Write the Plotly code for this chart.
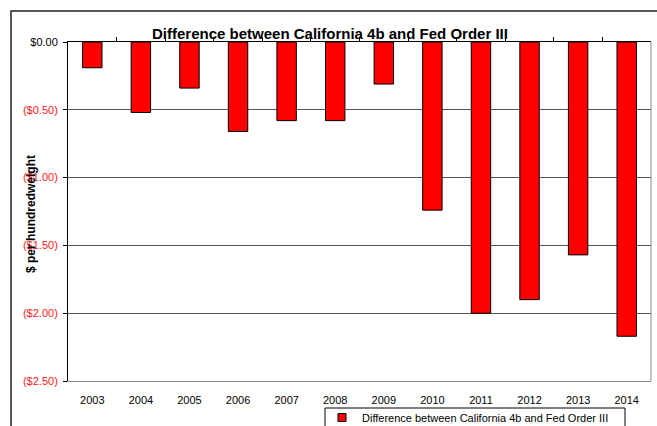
import plotly.graph_objects as go

years = ["2003", "2004", "2005", "2006", "2007", "2008", "2009", "2010", "2011", "2012", "2013", "2014"]
difference = [-0.19, -0.52, -0.34, -0.66, -0.58, -0.58, -0.31, -1.24, -2.00, -1.90, -1.57, -2.17]
y_tickvals = [0, -0.5, -1.0, -1.5, -2.0, -2.5]
y_ticktext = ["$0.00", "($0.50)", "($1.00)", "($1.50)", "($2.00)", "($2.50)"]
series_name = "Difference between California 4b and Fed Order III"
chart_title = "Difference between California 4b and Fed Order III"
y_title = "$ per hundredweight"

W, H = 657, 426
L, R, T, B = 68, 6, 42, 45
pw, ph = W - L - R, H - T - B

def px(x):
    return (x - L) / pw

def py(y):
    return 1 - (y - T) / ph

colored = []
for v, t in zip(y_tickvals, y_ticktext):
    if v < 0:
        colored.append('<span style="color:#FF2020">' + t + '</span>')
    else:
        colored.append(t)

fig = go.Figure()
fig.add_trace(go.Bar(
    x=years, y=difference, name=series_name,
    marker=dict(color="#FF0000", line=dict(color="#000000", width=1)),
    width=0.4, showlegend=False,
))
# legend entry with small square marker
fig.add_trace(go.Scatter(x=[None], y=[None], mode="markers", name=series_name,
                         marker=dict(symbol="square", size=8, color="#FF0000",
                                     line=dict(color="black", width=1)),
                         showlegend=True))
# invisible trace to activate top axis
fig.add_trace(go.Scatter(x=[0], y=[0], xaxis="x2", yaxis="y", mode="markers",
                         marker=dict(opacity=0), showlegend=False, hoverinfo="skip"))

fig.update_layout(
    width=W, height=H,
    margin=dict(l=L, r=R, t=T, b=B, autoexpand=False),
    paper_bgcolor="white", plot_bgcolor="white",
    font=dict(family="Liberation Sans, Arial, sans-serif", size=11, color="black"),
    title=dict(text="<b>" + chart_title + "</b>", x=330 / W, xref="container", xanchor="center",
               y=1 - 34 / H, yref="container", yanchor="middle",
               font=dict(size=15, color="black")),
    xaxis=dict(type="category", range=[-0.5, 11.5], showline=True, linecolor="#8c8c8c", linewidth=1,
               ticks="", showgrid=False, zeroline=False, ticklabelstandoff=9,
               tickfont=dict(size=11, color="black")),
    xaxis2=dict(overlaying="x", side="top", range=[-0.5, 11.5], showline=True, linecolor="black",
                linewidth=1, ticks="outside", ticklen=4, tickcolor="black",
                tickvals=[i + 0.5 for i in range(11)], showticklabels=False,
                showgrid=False, zeroline=False),
    yaxis=dict(range=[-2.5, 0], tickvals=y_tickvals, ticktext=colored, showline=True,
               linecolor="black", linewidth=1, ticks="outside", ticklen=4, tickcolor="black",
               showgrid=True, gridcolor="#555555", gridwidth=1, zeroline=False,
               ticklabelstandoff=3,
               tickfont=dict(size=11, color="black")),
    legend=dict(x=px(322), y=py(403), xanchor="left", yanchor="top",
                borderwidth=0, bgcolor="rgba(0,0,0,0)",
                itemwidth=30,
                font=dict(size=11, color="black")),
    showlegend=True,
    bargap=0.6,
)

# y axis title overlapping tick labels
fig.add_annotation(text="<b>" + y_title + "</b>", textangle=-90, x=px(22), y=py(214),
                   xref="paper", yref="paper", showarrow=False,
                   font=dict(size=12, color="black"))

# right border of plot area (gray)
fig.add_shape(type="line", xref="paper", yref="paper", x0=1, x1=1, y0=0, y1=1,
              line=dict(color="#8c8c8c", width=1))
# outer chart area border
fig.add_shape(type="rect", xref="paper", yref="paper", x0=px(11), x1=px(W + 5),
              y0=py(H + 5), y1=py(11), line=dict(color="#222222", width=1.5),
              fillcolor="rgba(0,0,0,0)", layer="below")
# legend box
fig.add_shape(type="rect", xref="paper", yref="paper", x0=px(325), x1=px(625),
              y0=py(H + 5), y1=py(408), line=dict(color="black", width=1),
              fillcolor="white", layer="below")

fig.write_html("out.html")
